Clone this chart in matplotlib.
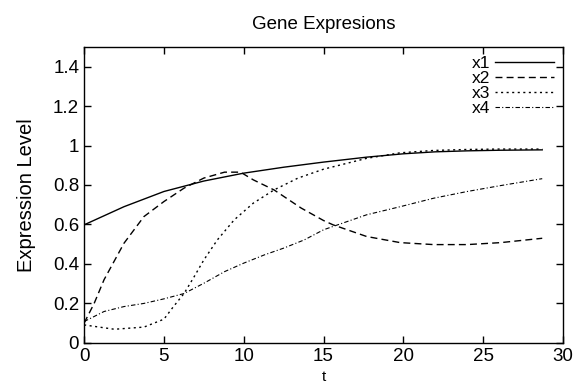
import matplotlib.pyplot as plt

plt.rcParams['font.family'] = ['Liberation Sans', 'DejaVu Sans']

# data
t1 = [0, 2.5, 5, 7.5, 10, 12.5, 15, 17.7, 20, 22, 24, 26, 28.7]
x1 = [0.598, 0.69, 0.767, 0.82, 0.86, 0.89, 0.916, 0.941, 0.958, 0.968, 0.973, 0.976, 0.978]

t2 = [0, 0.63, 1.25, 2.5, 3.75, 5, 6.26, 7.5, 8.8, 9.8, 10.6, 11.9, 13.6, 15, 15.6,
      17.7, 19.8, 21.9, 24, 26.1, 28.7]
x2 = [0.10, 0.2, 0.32, 0.505, 0.64, 0.716, 0.784, 0.835, 0.865, 0.865, 0.826, 0.775,
      0.683, 0.62, 0.598, 0.539, 0.508, 0.498, 0.498, 0.508, 0.53]

t3 = [0, 1.9, 3.75, 5, 5.6, 6.26, 6.9, 7.5, 8.35, 9.4, 10.6, 11.9, 13.4, 15, 17.7,
      19.8, 21.9, 24, 26, 28.7]
x3 = [0.091, 0.069, 0.08, 0.12, 0.184, 0.25, 0.336, 0.42, 0.522, 0.623, 0.708, 0.775,
      0.835, 0.88, 0.935, 0.963, 0.975, 0.98, 0.982, 0.982]

t4 = [0, 1.25, 2.5, 3.75, 5, 6.26, 7.5, 8.8, 10, 11.3, 12.5, 13.8, 15, 15.6, 17.7,
      19.8, 21.9, 24, 26.1, 28.7]
x4 = [0.108, 0.159, 0.184, 0.2, 0.223, 0.25, 0.302, 0.361, 0.404, 0.446, 0.48, 0.522,
      0.573, 0.59, 0.649, 0.69, 0.733, 0.767, 0.797, 0.832]

fig = plt.figure(figsize=(5.84, 3.87), dpi=100)
ax = fig.add_axes([0.144, 0.114, 0.820, 0.765])

ax.plot(t1, x1, color='black', linestyle='-', linewidth=1.0, label='x1')
ax.plot(t2, x2, color='black', linestyle=(0, (5, 3)), linewidth=1.0, label='x2')
ax.plot(t3, x3, color='black', linestyle=(0, (1.5, 2.5)), linewidth=1.0, label='x3')
ax.plot(t4, x4, color='black', linestyle=(0, (4, 2, 1, 2)), linewidth=0.8, label='x4')

ax.set_xlim(0, 30)
ax.set_ylim(0, 1.5)
ax.set_xticks([0, 5, 10, 15, 20, 25, 30])
ax.set_yticks([0, 0.2, 0.4, 0.6, 0.8, 1, 1.2, 1.4])
ax.set_yticklabels(['0', '0.2', '0.4', '0.6', '0.8', '1', '1.2', '1.4'])
ax.tick_params(direction='in', top=True, right=True, labelsize=13.5, length=5, width=1)
for s in ax.spines.values():
    s.set_linewidth(1.0)

ax.set_title('Gene Expresions', fontsize=13.5, pad=13)
ax.set_xlabel('t', fontsize=11, labelpad=4)
ax.set_ylabel('Expression Level', fontsize=14.5, labelpad=12)

ax.legend(loc='upper right', frameon=False, markerfirst=False, fontsize=12.5,
          handlelength=3.4, handletextpad=0.3, labelspacing=0.0,
          borderaxespad=0.3, borderpad=0.2)

plt.savefig('out.png', dpi=100)
